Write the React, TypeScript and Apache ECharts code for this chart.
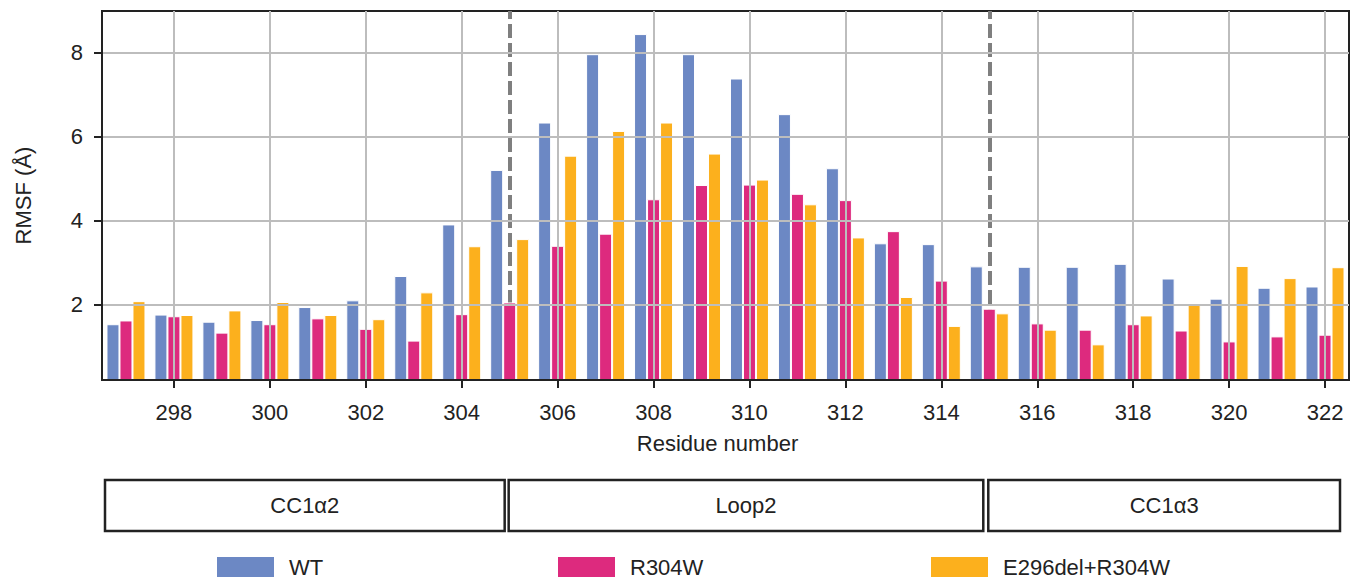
import React, { useEffect, useRef } from "react";
import * as echarts from "echarts";

const residues = [
  "297", "298", "299", "300", "301", "302", "303", "304", "305", "306", "307", "308", "309",
  "310", "311", "312", "313", "314", "315", "316", "317", "318", "319", "320", "321", "322",
];
const wt = [
  1.53, 1.76, 1.59, 1.63, 1.94, 2.1, 2.68, 3.91, 5.21, 6.34, 7.97, 8.45, 7.97,
  7.39, 6.54, 5.25, 3.46, 3.44, 2.91, 2.9, 2.9, 2.97, 2.62, 2.14, 2.4, 2.43,
];
const r304w = [
  1.62, 1.72, 1.33, 1.53, 1.67, 1.42, 1.14, 1.77, 2.05, 3.4, 3.69, 4.51, 4.85,
  4.86, 4.64, 4.49, 3.75, 2.57, 1.9, 1.55, 1.4, 1.53, 1.38, 1.12, 1.24, 1.28,
];
const e296delR304w = [
  2.08, 1.75, 1.86, 2.06, 1.75, 1.65, 2.29, 3.39, 3.56, 5.55, 6.14, 6.34, 5.6,
  4.98, 4.39, 3.6, 2.18, 1.49, 1.79, 1.4, 1.05, 1.74, 2.02, 2.92, 2.63, 2.89,
];
const seriesNames = ["WT", "R304W", "E296del+R304W"];
const seriesColors = ["#6c88c4", "#dd2a7e", "#fcb01d"];
const yTickValues = [2, 4, 6, 8];
const dividerResidues = ["305", "315"];
const regionNames = ["CC1α2", "Loop2", "CC1α3"];

const FONT = "'Liberation Sans', Arial, Helvetica, sans-serif";
const W = 1355;
const H = 579;
const GRID_LEFT = 102;
const GRID_RIGHT = 6;
const GRID_TOP = 11;
const GRID_BOTTOM = 199;
const TEXT = "#222";
const GRIDLINE = "#bdbdbd";

const everyOther = (i: number) => i % 2 === 1;

export default function App() {
  const ref = useRef<HTMLDivElement | null>(null);

  useEffect(() => {
    if (!ref.current) return;
    const chart = echarts.init(ref.current, undefined, { renderer: "svg" });

    const dataSets = [wt, r304w, e296delR304w];
    const legendLefts = [217, 558, 931];

    const option: any = {
      animation: false,
      backgroundColor: "#fff",
      textStyle: { fontFamily: FONT },
      grid: {
        left: GRID_LEFT,
        right: GRID_RIGHT,
        top: GRID_TOP,
        bottom: GRID_BOTTOM,
        show: true,
        borderColor: TEXT,
        borderWidth: 2,
        backgroundColor: "transparent",
      },
      legend: seriesNames.map((n, i) => ({
        data: [n],
        left: legendLefts[i],
        top: 556,
        padding: 0,
        icon: "rect",
        itemWidth: 57,
        itemHeight: 20,
        selectedMode: false,
        itemStyle: { borderWidth: 0 },
        textStyle: { fontSize: 22, color: TEXT, fontFamily: FONT, padding: [0, 0, 0, 10] },
      })),
      xAxis: {
        type: "category",
        data: residues,
        z: 5,
        axisLine: { show: true, lineStyle: { color: TEXT, width: 2 } },
        axisTick: {
          show: true,
          alignWithLabel: true,
          interval: everyOther,
          length: 8,
          lineStyle: { color: TEXT, width: 2 },
        },
        axisLabel: { interval: everyOther, fontSize: 22, color: TEXT, margin: 21, fontFamily: FONT },
        splitLine: {
          show: true,
          interval: everyOther,
          alignWithLabel: true,
          lineStyle: { color: GRIDLINE, width: 2 },
        },
        name: "Residue number",
        nameLocation: "middle",
        nameGap: 52,
        nameTextStyle: { fontSize: 22, color: TEXT, fontFamily: FONT, padding: [0, 16, 0, 0] },
      },
      yAxis: {
        type: "value",
        min: 0.2,
        max: 9,
        z: 5,
        axisLine: { show: true, lineStyle: { color: TEXT, width: 2 } },
        axisTick: { show: true, customValues: yTickValues, length: 8, lineStyle: { color: TEXT, width: 2 } },
        axisLabel: { customValues: yTickValues, fontSize: 22, color: TEXT, margin: 19, fontFamily: FONT },
        splitLine: { show: true, lineStyle: { color: GRIDLINE, width: 2 } },
        name: "RMSF (Å)",
        nameLocation: "middle",
        nameGap: 68,
        nameTextStyle: { fontSize: 22, color: TEXT, fontFamily: FONT },
      },
      series: [
        ...seriesNames.map((n, i) => ({
          name: n,
          type: "bar",
          data: dataSets[i],
          barWidth: 13,
          barGap: "0%",
          z: 2,
          itemStyle: { color: seriesColors[i], borderColor: "#fff", borderWidth: 1 },
        })),
        {
          name: "divider",
          type: "line",
          data: [],
          z: 1,
          silent: true,
          markLine: {
            z: 1,
            silent: true,
            symbol: "none",
            label: { show: false },
            lineStyle: { color: "#7f7f7f", width: 4, type: [14, 5] },
            data: dividerResidues.map((r) => ({ xAxis: r })),
          },
        },
      ],
    };

    chart.setOption(option);

    const xa = chart.convertToPixel({ xAxisIndex: 0 }, dividerResidues[0]) as number;
    const xb = chart.convertToPixel({ xAxisIndex: 0 }, dividerResidues[1]) as number;
    const left = GRID_LEFT;
    const right = W - GRID_RIGHT;
    const spans = [
      [left + 3, xa - 5],
      [xa - 1, xb - 6],
      [xb - 1, right - 9],
    ];
    const boxTop = 480;
    const boxH = 51;
    const graphic: any[] = [];
    spans.forEach(([x0, x1], i) => {
      graphic.push({
        type: "rect",
        shape: { x: x0, y: boxTop, width: x1 - x0, height: boxH },
        style: { fill: "#fff", stroke: TEXT, lineWidth: 2.5 },
      });
      graphic.push({
        type: "text",
        x: (x0 + x1) / 2,
        y: boxTop + boxH / 2,
        style: {
          text: regionNames[i],
          fontSize: 22,
          fontFamily: FONT,
          fill: TEXT,
          align: "center",
          verticalAlign: "middle",
        },
      });
    });
    chart.setOption({ graphic });

    return () => chart.dispose();
  }, []);

  return (
    <div
      ref={ref}
      style={{ position: "absolute", left: 0, top: 0, width: W, height: H, background: "#fff" }}
    />
  );
}
